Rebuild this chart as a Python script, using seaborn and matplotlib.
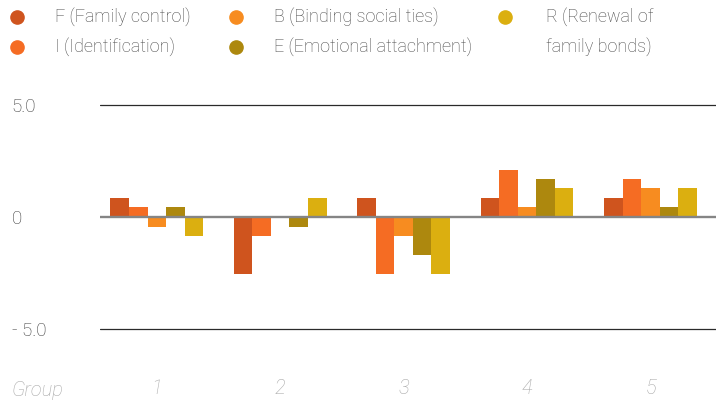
import matplotlib
matplotlib.use('Agg')
import matplotlib.pyplot as plt
import seaborn as sns
import pandas as pd
from matplotlib.lines import Line2D

# ---- data ----
groups = ['1', '2', '3', '4', '5']
series = ['F (Family control)', 'I (Identification)', 'B (Binding social ties)',
          'E (Emotional attachment)', 'R (Renewal of\nfamily bonds)']
F_vals = [0.85, -2.55, 0.85, 0.85, 0.85]
I_vals = [0.43, -0.85, -2.55, 2.1, 1.7]
B_vals = [-0.43, 0.0, -0.85, 0.43, 1.3]
E_vals = [0.43, -0.43, -1.7, 1.7, 0.43]
R_vals = [-0.85, 0.85, -2.55, 1.3, 1.3]
colors = ['#CF541E', '#F56C23', '#F78C20', '#AD880E', '#DBAF10']
ytick_vals = [-5, 0, 5]
ytick_labels = ['- 5.0', '0', '5.0']
x_title = 'Group'

rows = []
for name, vals in zip(series, [F_vals, I_vals, B_vals, E_vals, R_vals]):
    for g, v in zip(groups, vals):
        rows.append({'group': g, 'series': name, 'value': v})
df = pd.DataFrame(rows)

sns.set_style('white')
plt.rcParams['font.family'] = ['Roboto', 'DejaVu Sans']

W, H = 720, 404
fig = plt.figure(figsize=(W / 100, H / 100), dpi=100)
ax = fig.add_axes([100 / W, (H - 344.3) / H, 616 / W, 254.6 / H])

sns.barplot(data=df, x='group', y='value', hue='series', order=groups,
            hue_order=series, palette=colors, width=0.75, saturation=1,
            linewidth=0, legend=False, ax=ax, zorder=2)

ax.set_ylim(-5.7, 5.7)
ax.set_xlim(-0.46, 4.53)
ax.set_yticks(ytick_vals)
ax.set_yticklabels(ytick_labels)
for s in ax.spines.values():
    s.set_visible(False)
ax.tick_params(axis='y', length=0, pad=63.5, labelsize=13.5, labelcolor='#3a3a3a')
for t in ax.get_yticklabels():
    t.set_ha('left')
    t.set_fontweight('light')
ax.tick_params(axis='x', length=0, pad=25, labelsize=14.5, labelcolor='#A8A8A8')
for t in ax.get_xticklabels():
    t.set_fontstyle('italic')
    t.set_fontweight('light')
ax.set_xlabel('')
ax.set_ylabel('')

for yv in ytick_vals:
    if yv == 0:
        ax.axhline(yv, color='#858585', lw=1.7, zorder=3)
    else:
        ax.axhline(yv, color='#2a2a2a', lw=0.9, zorder=1)

fig.text(12 / W, 1 - 390 / H, x_title, fontsize=14.5, color='#A8A8A8',
         style='italic', fontweight='light', ha='left', va='center')

# ---- legend (3 columns, column-wise) ----
marker_x = [17, 236, 505]
text_x = [55, 274, 546]
row_y = [17, 47]
for i, (name, c) in enumerate(zip(series, colors)):
    col, row = divmod(i, 2)
    yy = 1 - row_y[row] / H
    fig.add_artist(Line2D([marker_x[col] / W], [yy], marker='o', markersize=9.5,
                          color=c, linestyle='none', transform=fig.transFigure))
    lines = name.split('\n')
    for k, ln in enumerate(lines):
        fig.text(text_x[col] / W, 1 - (row_y[row] + 30 * k) / H, ln, fontsize=13,
                 color='#4a4a4a', fontweight='light', ha='left', va='center')

fig.savefig('out.png', dpi=100)
